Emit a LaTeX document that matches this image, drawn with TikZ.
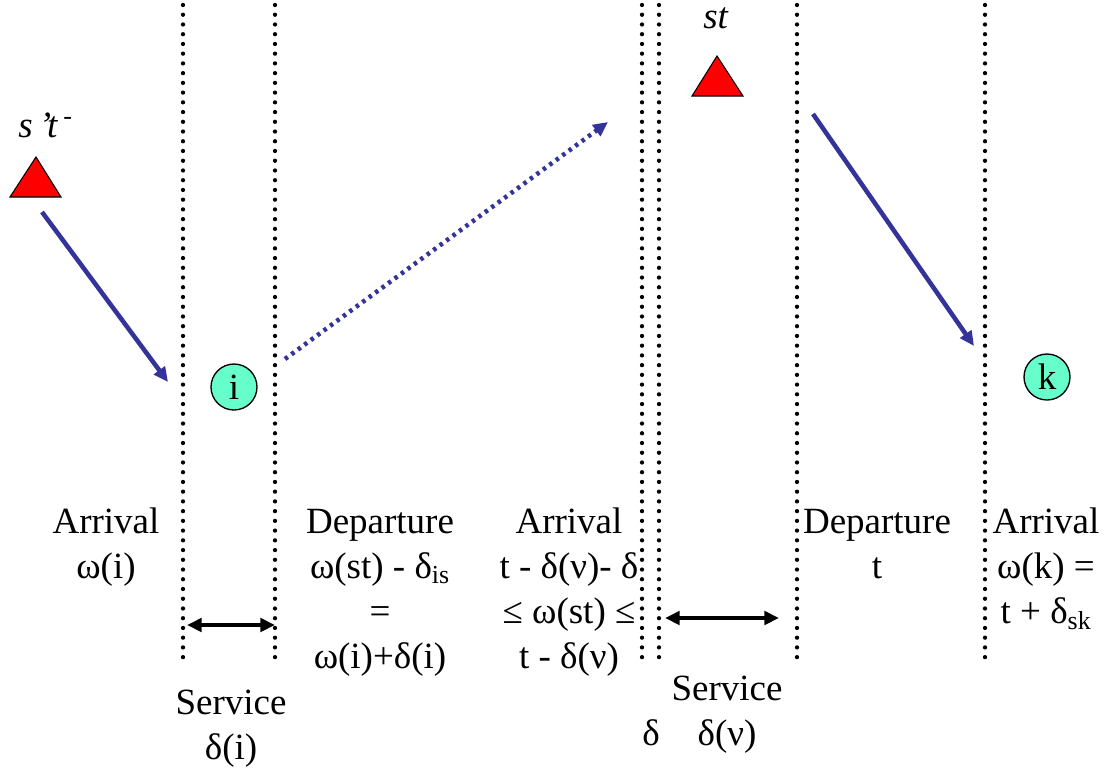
\documentclass[tikz,border=0pt]{standalone}
\usepackage{fontspec}
\setmainfont{Liberation Serif}
\usepackage{tikz}
\usetikzlibrary{arrows.meta}
\definecolor{flow}{HTML}{333399}
\definecolor{alarm}{HTML}{FF0000}
\definecolor{jobfill}{HTML}{66FFCC}
\tikzset{
  sep/.style={line width=3.2pt, line cap=round, dash pattern=on 0pt off 7.3pt},
  move/.style={line width=3.4pt, draw=flow, -{Triangle[length=11pt,width=10pt]}},
  hop/.style={move, dash pattern=on 2.6pt off 3.4pt},
  span/.style={line width=3pt, {Triangle[length=11pt,width=10pt]}-{Triangle[length=11pt,width=10pt]}},
  job/.style={circle, draw, line width=1pt, fill=jobfill, minimum size=34.5pt, inner sep=0pt,
    font=\fontsize{27.75}{33.75}\selectfont},
  tag/.style={align=center, anchor=base, inner sep=0pt, font=\fontsize{27.75}{33.75}\selectfont},
  evt/.style={draw=black, line width=0.8pt, fill=alarm},
}

\begin{document}
\begin{tikzpicture}[x=0.75pt, y=-0.75pt]
  \useasboundingbox (0,0) rectangle (1107,768);

  % time boundaries
  \foreach \name/\x in {b1/183, b2/275, b3/642, b4/659, b5/797, b6/985} {
    \coordinate (\name t) at (\x,5);
    \coordinate (\name b) at (\x,662);
    \draw[sep] (\name t) -- (\name b);
  }

  % events
  \coordinate (e1l) at (10,197);  % s't- base left
  \coordinate (e1r) at (61,197);
  \coordinate (e1a) at (36,157);
  \draw[evt] (e1l) -- (e1r) -- (e1a) -- cycle;
  \node[tag, anchor=base west, font=\fontsize{27.75}{33.75}\selectfont\itshape] (lbprev) at (18,137) {s\,’t\,\textsuperscript{\upshape -}};

  \coordinate (e2l) at (692,96);  % st base left
  \coordinate (e2r) at (743,96);
  \coordinate (e2a) at (717,56);
  \draw[evt] (e2l) -- (e2r) -- (e2a) -- cycle;
  \node[tag, anchor=base west, font=\fontsize{27.75}{33.75}\selectfont\itshape] (lbst) at (703,28) {st};

  % jobs
  \node[job] (i) at (234,387) {i};
  \node[job] (k) at (1047,377) {k};

  % flows
  \coordinate (f1s) at (42,212);
  \coordinate (f1e) at (168,382);
  \draw[move] (f1s) -- (f1e);
  \coordinate (f2s) at (285,359);
  \coordinate (f2e) at (608,122);
  \draw[hop] (f2s) -- (f2e);
  \coordinate (f3s) at (813,114);
  \coordinate (f3e) at (974,346);
  \draw[move] (f3s) -- (f3e);

  % service spans
  \coordinate (s1l) at (187,625);
  \coordinate (s1r) at (275,625);
  \draw[span] (s1l) -- (s1r);
  \coordinate (s2l) at (665,618);
  \coordinate (s2r) at (779,618);
  \draw[span] (s2l) -- (s2r);

  % labels (placed at baseline of last line)
  \node[tag] (arri) at (106,578) {Arrival\\ω(i)};
  \node[tag] (depi) at (380,668) {Departure\\ω(st) - δ\textsubscript{is}\\=\\ω(i)+δ(i)};
  \node[tag] (arrs) at (569,668) {Arrival\\t - δ(ν)- δ\\≤ ω(st) ≤\\t - δ(ν)};
  \node[tag] (srvi) at (231,759) {Service\\δ(i)};
  \node[tag] (srvs) at (727,745) {Service\\δ(ν)};
  \node[tag] (stray) at (651,745) {δ};
  \node[tag] (deps) at (877,578) {Departure\\t};
  \node[tag] (arrk) at (1046,623) {Arrival\\ω(k) =\\t + δ\textsubscript{sk}};
\end{tikzpicture}
\end{document}
